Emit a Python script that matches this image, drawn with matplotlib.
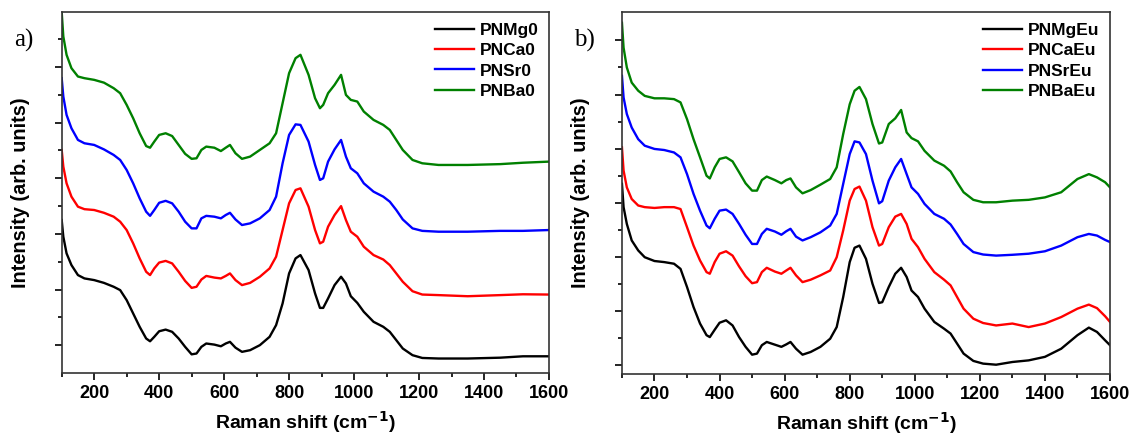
import matplotlib
matplotlib.use("Agg")
import matplotlib.pyplot as plt
from matplotlib.ticker import MultipleLocator, FixedLocator

# ---------------- data: panel a ----------------
x_a = [100, 105, 115, 130, 150, 170, 200, 230, 260, 280,
       300, 320, 340, 360, 372, 385, 400, 420, 440, 460,
       480, 500, 515, 530, 545, 570, 590, 605, 618, 635,
       655, 680, 710, 740, 760, 780, 800, 820, 835, 860,
       880, 895, 905, 920, 940, 960, 975, 990, 1010, 1030,
       1060, 1090, 1110, 1130, 1150, 1180, 1210, 1260, 1350, 1450,
       1520, 1600]
mg0 = [5.50, 4.90, 4.30, 3.88, 3.52, 3.40, 3.34, 3.24, 3.10, 2.98,
       2.62, 2.14, 1.66, 1.24, 1.14, 1.30, 1.50, 1.56, 1.48, 1.24,
       0.94, 0.67, 0.70, 0.94, 1.06, 1.02, 0.96, 1.06, 1.12, 0.91,
       0.76, 0.82, 1.00, 1.30, 1.72, 2.50, 3.58, 4.12, 4.24, 3.70,
       2.86, 2.34, 2.34, 2.68, 3.16, 3.46, 3.22, 2.76, 2.52, 2.20,
       1.84, 1.66, 1.48, 1.18, 0.88, 0.64, 0.54, 0.52, 0.52, 0.55,
       0.60, 0.60]
ca0 = [8.02, 7.42, 6.82, 6.34, 5.98, 5.89, 5.86, 5.76, 5.62, 5.44,
       5.14, 4.66, 4.12, 3.64, 3.52, 3.76, 3.97, 4.03, 3.94, 3.64,
       3.31, 3.06, 3.10, 3.36, 3.49, 3.43, 3.40, 3.49, 3.58, 3.34,
       3.16, 3.24, 3.46, 3.76, 4.18, 5.14, 6.10, 6.58, 6.64, 5.98,
       5.14, 4.66, 4.72, 5.26, 5.68, 6.00, 5.50, 5.08, 4.90, 4.54,
       4.24, 4.08, 3.88, 3.58, 3.28, 2.94, 2.82, 2.80, 2.76, 2.80,
       2.83, 2.82]
sr0 = [10.60, 9.94, 9.28, 8.80, 8.38, 8.26, 8.20, 8.04, 7.84, 7.66,
       7.30, 6.82, 6.28, 5.80, 5.65, 5.86, 6.12, 6.19, 6.10, 5.80,
       5.44, 5.20, 5.20, 5.56, 5.65, 5.62, 5.56, 5.68, 5.76, 5.52,
       5.32, 5.38, 5.56, 5.86, 6.34, 7.54, 8.56, 8.94, 8.92, 8.32,
       7.48, 6.94, 7.00, 7.60, 8.04, 8.38, 7.78, 7.36, 7.18, 6.82,
       6.52, 6.34, 6.16, 5.86, 5.52, 5.20, 5.11, 5.08, 5.08, 5.11,
       5.11, 5.14]
ba0 = [12.97, 12.10, 11.44, 10.96, 10.66, 10.60, 10.54, 10.44, 10.24, 10.06,
       9.64, 9.16, 8.62, 8.16, 8.10, 8.32, 8.56, 8.62, 8.52, 8.20,
       7.88, 7.70, 7.72, 8.02, 8.14, 8.10, 7.98, 8.10, 8.20, 7.90,
       7.70, 7.78, 8.02, 8.26, 8.62, 9.70, 10.78, 11.32, 11.44, 10.72,
       9.88, 9.52, 9.64, 10.06, 10.36, 10.72, 10.00, 9.82, 9.76, 9.40,
       9.10, 8.92, 8.74, 8.38, 8.02, 7.66, 7.54, 7.48, 7.48, 7.51,
       7.56, 7.60]

# ---------------- data: panel b ----------------
x_b = [100, 105, 115, 130, 150, 170, 200, 230, 260, 280,
       300, 320, 340, 360, 370, 385, 400, 420, 440, 460,
       480, 500, 515, 530, 545, 570, 590, 605, 618, 635,
       655, 680, 710, 740, 760, 780, 800, 815, 830,
       850, 870, 890, 900, 920, 940, 958, 975, 990, 1010,
       1030, 1060, 1090, 1110, 1130, 1150, 1180, 1210, 1250, 1300,
       1350, 1400, 1450, 1500, 1535, 1560, 1585, 1600]
mgeu = [6.70, 5.84, 5.22, 4.61, 4.24, 3.99, 3.85, 3.81, 3.75, 3.56,
        2.89, 2.15, 1.54, 1.11, 1.04, 1.31, 1.57, 1.66, 1.47, 1.04,
        0.68, 0.39, 0.43, 0.74, 0.86, 0.76, 0.68, 0.77, 0.86, 0.61,
        0.39, 0.49, 0.68, 0.98, 1.41, 2.52, 3.81, 4.34, 4.42,
        3.93, 3.01, 2.30, 2.33, 2.89, 3.38, 3.60, 3.26, 2.76, 2.52,
        2.09, 1.60, 1.35, 1.17, 0.80, 0.43, 0.16, 0.06, 0.02, 0.12,
        0.18, 0.31, 0.61, 1.11, 1.39, 1.23, 0.92, 0.74]
caeu = [8.05, 7.19, 6.57, 6.14, 5.90, 5.84, 5.81, 5.84, 5.84, 5.77,
        5.10, 4.42, 3.87, 3.44, 3.38, 3.81, 4.12, 4.21, 4.05, 3.65,
        3.29, 3.03, 3.07, 3.44, 3.60, 3.46, 3.38, 3.50, 3.60, 3.32,
        3.07, 3.16, 3.32, 3.50, 3.99, 4.98, 6.08, 6.51, 6.60,
        6.08, 5.10, 4.42, 4.48, 5.10, 5.49, 5.59, 5.22, 4.67, 4.36,
        3.93, 3.44, 3.16, 2.95, 2.52, 2.09, 1.72, 1.56, 1.47, 1.54,
        1.41, 1.54, 1.78, 2.09, 2.24, 2.11, 1.81, 1.60]
sreu = [10.69, 9.89, 9.28, 8.78, 8.35, 8.11, 7.99, 7.95, 7.86, 7.68,
        7.06, 6.33, 5.71, 5.16, 5.06, 5.41, 5.71, 5.75, 5.59, 5.22,
        4.82, 4.48, 4.48, 4.85, 5.04, 4.94, 4.82, 4.95, 5.04, 4.75,
        4.61, 4.73, 4.91, 5.16, 5.59, 6.70, 7.80, 8.27, 8.23,
        7.80, 6.82, 5.98, 6.06, 6.82, 7.31, 7.62, 7.06, 6.57, 6.33,
        5.96, 5.59, 5.41, 5.20, 4.85, 4.48, 4.18, 4.09, 4.05, 4.08,
        4.12, 4.21, 4.42, 4.73, 4.85, 4.79, 4.63, 4.55]
baeu = [12.65, 11.73, 11.00, 10.44, 10.14, 9.95, 9.86, 9.86, 9.83, 9.71,
        9.09, 8.35, 7.68, 7.00, 6.90, 7.31, 7.62, 7.68, 7.53, 7.13,
        6.72, 6.45, 6.45, 6.84, 6.97, 6.84, 6.72, 6.84, 6.90, 6.57,
        6.35, 6.47, 6.67, 6.88, 7.31, 8.54, 9.64, 10.14, 10.28,
        9.83, 8.91, 8.19, 8.23, 8.91, 9.12, 9.43, 8.60, 8.39, 8.27,
        7.92, 7.56, 7.37, 7.16, 6.76, 6.39, 6.11, 6.02, 6.02, 6.08,
        6.11, 6.20, 6.39, 6.88, 7.06, 6.94, 6.76, 6.57]

labels_a = ["PNMg0", "PNCa0", "PNSr0", "PNBa0"]
labels_b = ["PNMgEu", "PNCaEu", "PNSrEu", "PNBaEu"]
colors = ["#000000", "#ff0000", "#0000ff", "#008000"]
xticks = [200, 400, 600, 800, 1000, 1200, 1400, 1600]

plt.rcParams['font.family'] = ['Liberation Sans', 'DejaVu Sans']

fig = plt.figure(figsize=(11.30, 4.37), dpi=100)
ax_a = fig.add_axes([0.0546, 0.1465, 0.4312, 0.8254])
ax_b = fig.add_axes([0.5504, 0.1450, 0.4319, 0.8264])


def style(ax, ylim, major, minor, series, labels, tag, xs):
    for ys, c, lab in zip(series, colors, labels):
        ax.plot(xs, ys, color=c, lw=1.7, label=lab)
    ax.set_xlim(100, 1600)
    ax.set_ylim(*ylim)
    ax.set_xticks(xticks)
    ax.xaxis.set_minor_locator(MultipleLocator(100))
    ax.yaxis.set_major_locator(FixedLocator(major))
    ax.yaxis.set_minor_locator(FixedLocator(minor))
    ax.set_yticklabels([])
    ax.tick_params(axis='both', which='major', direction='out', length=5, width=1.2,
                   labelsize=13, pad=4, top=False, right=False)
    ax.tick_params(axis='both', which='minor', direction='out', length=3, width=1.2,
                   top=False, right=False)
    for lbl in ax.get_xticklabels():
        lbl.set_fontweight('bold')
    for s in ax.spines.values():
        s.set_linewidth(1.2)
        s.set_color('#333333')
    ax.set_xlabel("Raman shift (cm$^{\\mathbf{-1}}$)", fontsize=14, fontweight='bold', labelpad=5)
    ax.set_ylabel("Intensity (arb. units)", fontsize=14.3, fontweight='bold', labelpad=14)
    ax.legend(loc='upper right', frameon=False, handlelength=2.25,
              handletextpad=0.35, labelspacing=0.3, borderaxespad=0.2,
              prop={'weight': 'bold', 'size': 12.5})
    ax.text(-0.098, 0.923, tag, transform=ax.transAxes, fontsize=18,
            family='Liberation Serif', ha='left', va='center')


style(ax_a, (0, 12.97), [1, 3, 5, 7, 9, 11], [2, 4, 6, 8, 10, 12],
      [mg0, ca0, sr0, ba0], labels_a, "a)", x_a)
style(ax_b, (-0.31, 13.03), [0, 2, 4, 6, 8, 10, 12], [1, 3, 5, 7, 9, 11],
      [mgeu, caeu, sreu, baeu], labels_b, "b)", x_b)

fig.savefig("out.png", dpi=100)
